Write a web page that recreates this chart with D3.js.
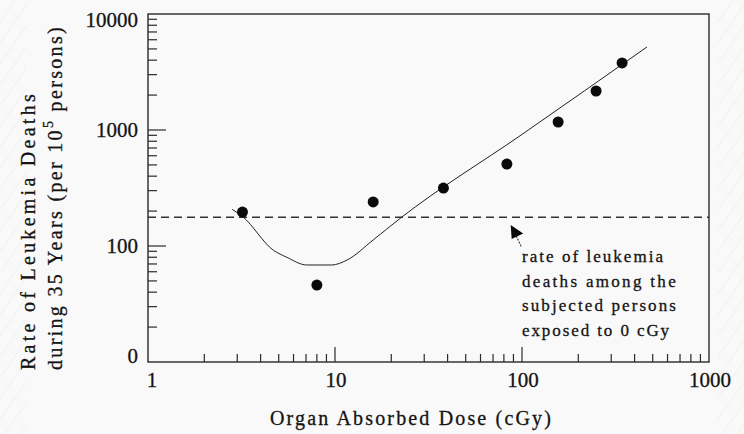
<!DOCTYPE html>
<html>
<head>
<meta charset="utf-8">
<script src="https://cdn.jsdelivr.net/npm/d3@7/dist/d3.min.js"></script>
<style>
  html, body { margin: 0; padding: 0; background: #f9f9f9; }
  svg { display: block; }
</style>
</head>
<body>
<svg id="chart" width="744" height="434"></svg>
<script>
// Leukemia death rate vs. organ absorbed dose (log-log)
const doses = [3.2, 8.0, 16, 38, 83, 156, 249, 343];          // cGy
const rates = [196, 46, 240, 316, 509, 1172, 2169, 3783];     // per 10^5 persons

// fitted dose-response curve
const fitDose = [2.82, 3.21, 4.68, 5.52, 7.06, 9.6, 11.6, 16.0, 22.3, 100, 466];
const fitRate = [207, 179, 92, 80, 68.6, 68.6, 75.7, 112.7, 173, 916, 5196];

// rate among persons exposed to 0 cGy
const baselineRate = 177;

const xTickValues = [1, 10, 100, 1000];
const xTickLabels = ["1", "10", "100", "1000"];
const yTickValues = [10, 100, 1000, 10000];
const yTickLabels = ["0", "100", "1000", "10000"];

const noteLines = ["rate of leukemia", "deaths among the", "subjected persons", "exposed to 0 cGy"];
const noteWidths = [143, 156, 156, 149];
const noteAnchor = { dose: 87, rate: 152 };   // arrow tip
const noteTextDose = 100;

const FONT = "\"Liberation Serif\"";
const INK = "#141414";

const svg = d3.select("#chart");
const W = 744, H = 434;

// faint hatched page edges
const defs = svg.append("defs");
const pat = defs.append("pattern")
  .attr("id", "hatch").attr("patternUnits", "userSpaceOnUse")
  .attr("width", 12).attr("height", 12)
  .attr("patternTransform", "rotate(35)");
pat.append("line").attr("x1", 0).attr("y1", 0).attr("x2", 0).attr("y2", 12)
  .attr("stroke", "#ebebeb").attr("stroke-width", 1.2);
svg.append("rect").attr("x", 0).attr("y", 0).attr("width", 26).attr("height", H).attr("fill", "url(#hatch)");
svg.append("rect").attr("x", 718).attr("y", 0).attr("width", 26).attr("height", H).attr("fill", "url(#hatch)");

const x = d3.scaleLog().domain([1, 1000]).range([148, 709]);
const y = d3.scaleLog().domain([10, 10000]).range([362, 14]);

const axisColor = "#2a2a2a";

// frame
svg.append("rect")
  .attr("x", x.range()[0]).attr("y", y.range()[1])
  .attr("width", x.range()[1] - x.range()[0])
  .attr("height", y.range()[0] - y.range()[1])
  .attr("fill", "none").attr("stroke", axisColor).attr("stroke-width", 1.4);

// minor/major ticks drawn inward
const xAll = x.ticks();
const yAll = y.ticks();
const isMajor = v => Math.abs(Math.log10(v) - Math.round(Math.log10(v))) < 1e-9;

svg.append("g").selectAll("line").data(xAll.filter(v => v > 1 && v < 1000)).join("line")
  .attr("x1", d => x(d)).attr("x2", d => x(d))
  .attr("y1", y.range()[0]).attr("y2", d => y.range()[0] - (isMajor(d) ? 15 : 8))
  .attr("stroke", axisColor).attr("stroke-width", 1.2);

svg.append("g").selectAll("line").data(yAll.filter(v => v > 10 && v < 10000)).join("line")
  .attr("y1", d => y(d)).attr("y2", d => y(d))
  .attr("x1", x.range()[0]).attr("x2", d => x.range()[0] + (isMajor(d) ? 18 : 9))
  .attr("stroke", axisColor).attr("stroke-width", 1.2);

function label(sel, size) {
  return sel.style("font-family", FONT).style("font-size", size + "px")
    .attr("fill", INK).attr("stroke", INK).attr("stroke-width", 0.3);
}
function fitWidth(sel, target) {
  const n = sel.text().length;
  const w = sel.node().getComputedTextLength();
  sel.attr("letter-spacing", ((target - w) / n).toFixed(3));
}

// tick labels
label(svg.append("g").selectAll("text").data(xTickValues).join("text"), 21)
  .attr("x", d => x(d) + (d === 1 ? 4 : 1))
  .attr("y", y.range()[0] + 25)
  .attr("text-anchor", "middle")
  .text((d, i) => xTickLabels[i]);

label(svg.append("g").selectAll("text").data(yTickValues).join("text"), 21)
  .attr("x", x.range()[0] - 10)
  .attr("y", d => Math.max(27, Math.min(363, y(d) + 7)))
  .attr("text-anchor", "end")
  .text((d, i) => yTickLabels[i]);

// axis titles
const xt = label(svg.append("text"), 20)
  .attr("x", 270).attr("y", 425)
  .text("Organ Absorbed Dose (cGy)");
fitWidth(xt, 283);

const yt1 = label(svg.append("text"), 20)
  .attr("transform", "translate(35,370) rotate(-90)")
  .text("Rate of Leukemia Deaths");
fitWidth(yt1, 279);

const yt2 = label(svg.append("text"), 20)
  .attr("transform", "translate(62,370) rotate(-90)");
yt2.append("tspan").text("during 35 Years (per 10");
yt2.append("tspan").attr("dy", -9).style("font-size", "14px").text("5");
yt2.append("tspan").attr("dy", 9).text(" persons)");
fitWidth(yt2, 345);

// baseline dashed line
svg.append("line")
  .attr("x1", x.range()[0]).attr("x2", x.range()[1])
  .attr("y1", y(baselineRate)).attr("y2", y(baselineRate))
  .attr("stroke", "#333").attr("stroke-width", 1.3)
  .attr("stroke-dasharray", "8,5");

// fitted curve
const fit = fitDose.map((d, i) => [d, fitRate[i]]);
svg.append("path")
  .datum(fit)
  .attr("fill", "none").attr("stroke", "#222").attr("stroke-width", 1)
  .attr("d", d3.line().x(d => x(d[0])).y(d => y(d[1])).curve(d3.curveMonotoneX));

// observed points
svg.append("g").selectAll("circle").data(doses).join("circle")
  .attr("cx", d => x(d))
  .attr("cy", (d, i) => y(rates[i]))
  .attr("r", 5.5)
  .attr("fill", "#0a0a0a");

// annotation arrow
const tx = x(noteAnchor.dose), ty = y(noteAnchor.rate);
svg.append("line")
  .attr("x1", tx + 5.5).attr("y1", ty + 11)
  .attr("x2", tx + 10.5).attr("y2", ty + 21.5)
  .attr("stroke", "#333").attr("stroke-width", 1.1)
  .attr("stroke-dasharray", "2,1.2");
svg.append("path")
  .attr("d", `M${tx},${ty} L${tx + 12.5},${ty + 8.5} L${tx + 1},${ty + 14} Z`)
  .attr("fill", "#0a0a0a");

// annotation text
const noteX = x(noteTextDose);
const noteY0 = y(baselineRate) + 45;
noteLines.forEach((line, i) => {
  const t = label(svg.append("text"), 17)
    .attr("x", noteX).attr("y", noteY0 + i * 24.5)
    .text(line);
  fitWidth(t, noteWidths[i]);
});
</script>
</body>
</html>
